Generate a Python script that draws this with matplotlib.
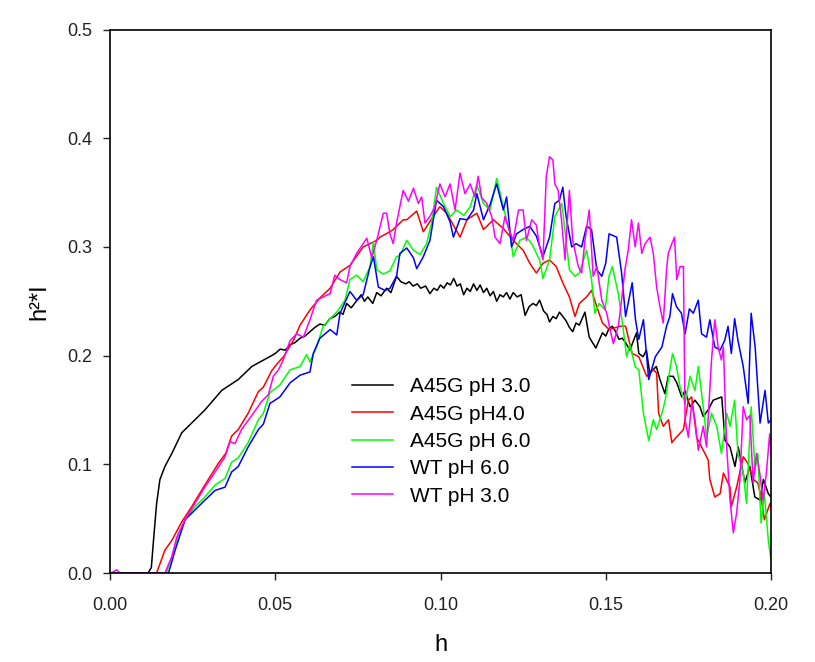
import matplotlib
matplotlib.use('Agg')
import matplotlib.pyplot as plt
from matplotlib.ticker import FormatStrFormatter

plt.rcParams['font.family'] = ['Liberation Sans', 'DejaVu Sans']

# A45G pH 3.0
h_a45g_ph3 = [0, 0.0115, 0.0125, 0.0131, 0.0141, 0.0151, 0.0166, 0.0187, 0.0217, 0.0247,
              0.0287, 0.0338, 0.0388, 0.0429, 0.0489, 0.0500, 0.0515, 0.0530, 0.0545, 0.0560,
              0.0575, 0.0590, 0.0605, 0.0620, 0.0635, 0.0650, 0.0665, 0.0680, 0.0695, 0.0705,
              0.0716, 0.0730, 0.0745, 0.0760, 0.0770, 0.0780, 0.0795, 0.0807, 0.0820, 0.0837,
              0.0850, 0.0867, 0.0880, 0.0895, 0.0905, 0.0917, 0.0930, 0.0940, 0.0955, 0.0968,
              0.0980, 0.0990, 0.1000, 0.1010, 0.1020, 0.1030, 0.1040, 0.1050, 0.1060, 0.1070,
              0.1080, 0.1090, 0.1100, 0.1110, 0.1120, 0.1130, 0.1140, 0.1150, 0.1160, 0.1170,
              0.1180, 0.1190, 0.1200, 0.1210, 0.1220, 0.1232, 0.1244, 0.1256, 0.1268, 0.1280,
              0.1290, 0.1300, 0.1312, 0.1322, 0.1330, 0.1340, 0.1350, 0.1360, 0.1370, 0.1380,
              0.1390, 0.1400, 0.1410, 0.1420, 0.1437, 0.1450, 0.1460, 0.1470, 0.1480, 0.1490,
              0.1500, 0.1510, 0.1520, 0.1530, 0.1540, 0.1550, 0.1560, 0.1573, 0.1593, 0.1600,
              0.1613, 0.1623, 0.1633, 0.1653, 0.1664, 0.1679, 0.1689, 0.1704, 0.1715, 0.1730,
              0.1740, 0.1755, 0.1770, 0.1785, 0.1795, 0.1810, 0.1825, 0.1851, 0.1861, 0.1876,
              0.1891, 0.1901, 0.1921, 0.1936, 0.1951, 0.1967, 0.1977, 0.1992, 0.2000]
i_a45g_ph3 = [0, 0, 0.005, 0.028, 0.064, 0.086, 0.098, 0.110, 0.129, 0.138,
              0.150, 0.168, 0.178, 0.190, 0.200, 0.202, 0.206, 0.205, 0.210, 0.212,
              0.216, 0.218, 0.222, 0.226, 0.229, 0.228, 0.234, 0.236, 0.240, 0.238,
              0.248, 0.244, 0.250, 0.256, 0.250, 0.254, 0.248, 0.258, 0.255, 0.262,
              0.258, 0.273, 0.268, 0.266, 0.268, 0.264, 0.266, 0.262, 0.264, 0.257,
              0.262, 0.260, 0.265, 0.262, 0.267, 0.265, 0.271, 0.264, 0.266, 0.256,
              0.262, 0.259, 0.266, 0.260, 0.265, 0.258, 0.262, 0.255, 0.259, 0.250,
              0.256, 0.254, 0.258, 0.252, 0.258, 0.254, 0.256, 0.237, 0.245, 0.248,
              0.246, 0.251, 0.241, 0.238, 0.231, 0.236, 0.234, 0.240, 0.236, 0.232,
              0.226, 0.222, 0.230, 0.228, 0.240, 0.217, 0.212, 0.207, 0.214, 0.221,
              0.218, 0.225, 0.227, 0.222, 0.215, 0.216, 0.212, 0.205, 0.221, 0.202,
              0.199, 0.205, 0.184, 0.190, 0.178, 0.165, 0.181, 0.181, 0.175, 0.162,
              0.168, 0.153, 0.159, 0.153, 0.144, 0.150, 0.159, 0.162, 0.122, 0.116,
              0.098, 0.116, 0.083, 0.098, 0.070, 0.067, 0.086, 0.073, 0.070]

# A45G pH4.0
h_a45g_ph4 = [0, 0.0141, 0.0166, 0.0187, 0.0217, 0.0247, 0.0287, 0.0328, 0.0350, 0.0368,
              0.0388, 0.0418, 0.0449, 0.0464, 0.0489, 0.0510, 0.0525, 0.0555, 0.0575, 0.0605,
              0.0635, 0.0666, 0.0696, 0.0726, 0.0766, 0.0807, 0.0817, 0.0847, 0.0857, 0.0887,
              0.0898, 0.0928, 0.0948, 0.0978, 0.0998, 0.1019, 0.1059, 0.1080, 0.1110, 0.1130,
              0.1160, 0.1190, 0.1220, 0.1250, 0.1270, 0.1290, 0.1310, 0.1330, 0.1350, 0.1370,
              0.1390, 0.1407, 0.1420, 0.1442, 0.1457, 0.1473, 0.1490, 0.1510, 0.1543, 0.1560,
              0.1580, 0.1600, 0.1624, 0.1644, 0.1654, 0.1660, 0.1674, 0.1690, 0.1700, 0.1714,
              0.1735, 0.1750, 0.1760, 0.1775, 0.1790, 0.1810, 0.1815, 0.1830, 0.1846, 0.1856,
              0.1876, 0.1880, 0.1896, 0.1916, 0.1930, 0.1947, 0.1960, 0.1970, 0.1980, 0.1997,
              0.2000]
i_a45g_ph4 = [0, 0, 0.021, 0.030, 0.047, 0.061, 0.081, 0.101, 0.110, 0.126,
              0.132, 0.147, 0.167, 0.171, 0.186, 0.194, 0.199, 0.214, 0.228, 0.242,
              0.253, 0.262, 0.277, 0.283, 0.300, 0.306, 0.309, 0.314, 0.316, 0.325,
              0.325, 0.333, 0.314, 0.328, 0.337, 0.331, 0.309, 0.325, 0.331, 0.316,
              0.325, 0.317, 0.306, 0.297, 0.285, 0.276, 0.285, 0.288, 0.282, 0.267,
              0.254, 0.236, 0.248, 0.254, 0.260, 0.245, 0.230, 0.224, 0.227, 0.227,
              0.202, 0.199, 0.181, 0.187, 0.184, 0.147, 0.135, 0.141, 0.120, 0.125,
              0.132, 0.159, 0.162, 0.125, 0.116, 0.104, 0.086, 0.070, 0.073, 0.092,
              0.079, 0.061, 0.079, 0.107, 0.101, 0.086, 0.083, 0.070, 0.049, 0.064,
              0.060]

# A45G pH 6.0
h_a45g_ph6 = [0, 0.0171, 0.0187, 0.0207, 0.0227, 0.0257, 0.0287, 0.0318, 0.0348, 0.0368,
              0.0388, 0.0418, 0.0449, 0.0464, 0.0484, 0.0514, 0.0545, 0.0575, 0.0595, 0.0605,
              0.0625, 0.0645, 0.0666, 0.0686, 0.0711, 0.0726, 0.0746, 0.0766, 0.0787, 0.0797,
              0.0807, 0.0827, 0.0847, 0.0867, 0.0877, 0.0898, 0.0918, 0.0938, 0.0958, 0.0973,
              0.0988, 0.1009, 0.1029, 0.1049, 0.1070, 0.1090, 0.1110, 0.1130, 0.1150, 0.1170,
              0.1190, 0.1210, 0.1220, 0.1240, 0.1260, 0.1276, 0.1300, 0.1310, 0.1330, 0.1346,
              0.1367, 0.1380, 0.1390, 0.1407, 0.1420, 0.1442, 0.1457, 0.1467, 0.1480, 0.1498,
              0.1510, 0.1520, 0.1538, 0.1553, 0.1563, 0.1573, 0.1589, 0.1600, 0.1614, 0.1630,
              0.1644, 0.1654, 0.1670, 0.1680, 0.1694, 0.1702, 0.1714, 0.1725, 0.1740, 0.1755,
              0.1770, 0.1780, 0.1795, 0.1805, 0.1820, 0.1836, 0.1850, 0.1866, 0.1876, 0.1890,
              0.1900, 0.1916, 0.1926, 0.1940, 0.1952, 0.1960, 0.1970, 0.1980, 0.1992, 0.2000]
i_a45g_ph6 = [0, 0, 0.015, 0.035, 0.049, 0.061, 0.070, 0.081, 0.087, 0.102,
              0.106, 0.120, 0.141, 0.147, 0.166, 0.173, 0.187, 0.190, 0.201, 0.194,
              0.208, 0.227, 0.234, 0.240, 0.251, 0.270, 0.274, 0.268, 0.282, 0.305,
              0.279, 0.275, 0.278, 0.291, 0.292, 0.306, 0.297, 0.293, 0.303, 0.322,
              0.355, 0.340, 0.328, 0.334, 0.329, 0.337, 0.357, 0.340, 0.334, 0.363,
              0.337, 0.312, 0.291, 0.306, 0.309, 0.303, 0.288, 0.271, 0.288, 0.328,
              0.340, 0.306, 0.279, 0.273, 0.276, 0.297, 0.270, 0.239, 0.248, 0.242,
              0.273, 0.282, 0.257, 0.224, 0.199, 0.210, 0.190, 0.187, 0.147, 0.122,
              0.141, 0.132, 0.147, 0.159, 0.187, 0.202, 0.190, 0.171, 0.156, 0.181,
              0.168, 0.190, 0.153, 0.125, 0.147, 0.135, 0.110, 0.147, 0.135, 0.159,
              0.110, 0.092, 0.064, 0.153, 0.095, 0.110, 0.046, 0.073, 0.030, 0.012]

# WT pH 6.0
h_wt_ph6 = [0, 0.0177, 0.0197, 0.0227, 0.0257, 0.0287, 0.0318, 0.0348, 0.0368, 0.0388,
            0.0418, 0.0449, 0.0464, 0.0484, 0.0514, 0.0545, 0.0575, 0.0605, 0.0615, 0.0635,
            0.0666, 0.0686, 0.0696, 0.0726, 0.0746, 0.0766, 0.0787, 0.0797, 0.0812, 0.0832,
            0.0847, 0.0867, 0.0877, 0.0898, 0.0918, 0.0928, 0.0948, 0.0968, 0.0988, 0.1009,
            0.1029, 0.1039, 0.1059, 0.1080, 0.1100, 0.1110, 0.1130, 0.1150, 0.1170, 0.1190,
            0.1200, 0.1215, 0.1230, 0.1250, 0.1270, 0.1290, 0.1310, 0.1330, 0.1346, 0.1360,
            0.1370, 0.1380, 0.1397, 0.1410, 0.1427, 0.1442, 0.1457, 0.1473, 0.1488, 0.1500,
            0.1510, 0.1533, 0.1548, 0.1560, 0.1580, 0.1590, 0.1600, 0.1614, 0.1630, 0.1650,
            0.1670, 0.1684, 0.1694, 0.1702, 0.1714, 0.1729, 0.1740, 0.1753, 0.1765, 0.1780,
            0.1790, 0.1805, 0.1815, 0.1830, 0.1846, 0.1860, 0.1870, 0.1880, 0.1890, 0.1900,
            0.1916, 0.1931, 0.1940, 0.1952, 0.1967, 0.1982, 0.1992, 0.2000]
i_wt_ph6 = [0, 0, 0.021, 0.049, 0.058, 0.067, 0.076, 0.079, 0.093, 0.098,
            0.116, 0.132, 0.137, 0.156, 0.162, 0.175, 0.182, 0.185, 0.202, 0.216,
            0.224, 0.219, 0.239, 0.259, 0.251, 0.256, 0.282, 0.291, 0.263, 0.260,
            0.262, 0.273, 0.294, 0.299, 0.290, 0.280, 0.291, 0.306, 0.343, 0.337,
            0.323, 0.309, 0.326, 0.325, 0.334, 0.349, 0.325, 0.339, 0.358, 0.334,
            0.346, 0.300, 0.312, 0.316, 0.319, 0.310, 0.291, 0.309, 0.340, 0.343,
            0.355, 0.328, 0.300, 0.303, 0.300, 0.319, 0.316, 0.279, 0.273, 0.285,
            0.312, 0.309, 0.276, 0.236, 0.267, 0.233, 0.215, 0.233, 0.178, 0.199,
            0.208, 0.227, 0.236, 0.257, 0.245, 0.239, 0.220, 0.243, 0.239, 0.251,
            0.220, 0.217, 0.233, 0.208, 0.205, 0.214, 0.227, 0.202, 0.234, 0.214,
            0.190, 0.156, 0.239, 0.208, 0.138, 0.168, 0.138, 0.141]

# WT pH 3.0
h_wt_ph3 = [0, 0.0010, 0.0020, 0.0030, 0.0166, 0.0187, 0.0202, 0.0227, 0.0257, 0.0287,
            0.0318, 0.0348, 0.0363, 0.0378, 0.0398, 0.0429, 0.0459, 0.0479, 0.0494, 0.0510,
            0.0524, 0.0545, 0.0565, 0.0585, 0.0605, 0.0625, 0.0645, 0.0666, 0.0680, 0.0696,
            0.0716, 0.0726, 0.0746, 0.0766, 0.0777, 0.0792, 0.0807, 0.0827, 0.0837, 0.0847,
            0.0857, 0.0867, 0.0887, 0.0903, 0.0918, 0.0933, 0.0943, 0.0953, 0.0968, 0.0983,
            0.0998, 0.1014, 0.1029, 0.1044, 0.1059, 0.1074, 0.1090, 0.1104, 0.1114, 0.1125,
            0.1140, 0.1155, 0.1165, 0.1180, 0.1195, 0.1205, 0.1220, 0.1236, 0.1250, 0.1260,
            0.1276, 0.1290, 0.1300, 0.1310, 0.1320, 0.1330, 0.1340, 0.1346, 0.1356, 0.1366,
            0.1377, 0.1382, 0.1390, 0.1400, 0.1417, 0.1427, 0.1437, 0.1450, 0.1462, 0.1473,
            0.1488, 0.1503, 0.1513, 0.1523, 0.1538, 0.1548, 0.1558, 0.1568, 0.1578, 0.1589,
            0.1599, 0.1609, 0.1619, 0.1634, 0.1644, 0.1654, 0.1664, 0.1674, 0.1684, 0.1689,
            0.1700, 0.1708, 0.1715, 0.1725, 0.1735, 0.1740, 0.1750, 0.1760, 0.1770, 0.1780,
            0.1795, 0.1805, 0.1820, 0.1830, 0.1840, 0.1850, 0.1856, 0.1866, 0.1876, 0.1886,
            0.1896, 0.1906, 0.1916, 0.1926, 0.1936, 0.1946, 0.1956, 0.1966, 0.1976, 0.1986,
            0.1996, 0.2000]
i_wt_ph3 = [0, 0.001, 0.003, 0, 0, 0.015, 0.033, 0.049, 0.064, 0.079,
            0.093, 0.107, 0.121, 0.119, 0.132, 0.145, 0.158, 0.164, 0.181, 0.187,
            0.196, 0.214, 0.220, 0.217, 0.233, 0.251, 0.254, 0.257, 0.274, 0.270,
            0.267, 0.282, 0.294, 0.303, 0.308, 0.290, 0.306, 0.331, 0.331, 0.312,
            0.303, 0.322, 0.352, 0.342, 0.354, 0.340, 0.346, 0.322, 0.328, 0.337,
            0.358, 0.346, 0.358, 0.334, 0.368, 0.349, 0.358, 0.346, 0.365, 0.345,
            0.340, 0.328, 0.309, 0.303, 0.328, 0.318, 0.306, 0.334, 0.334, 0.306,
            0.325, 0.320, 0.300, 0.288, 0.365, 0.383, 0.380, 0.358, 0.352, 0.325,
            0.288, 0.316, 0.352, 0.306, 0.282, 0.276, 0.306, 0.334, 0.273, 0.282,
            0.251, 0.239, 0.224, 0.211, 0.227, 0.251, 0.279, 0.297, 0.325, 0.300,
            0.322, 0.294, 0.303, 0.309, 0.294, 0.263, 0.245, 0.230, 0.279, 0.294,
            0.303, 0.309, 0.270, 0.282, 0.282, 0.141, 0.125, 0.156, 0.141, 0.113,
            0.135, 0.116, 0.196, 0.233, 0.208, 0.196, 0.208, 0.116, 0.067, 0.037,
            0.055, 0.086, 0.153, 0.141, 0.145, 0.083, 0.110, 0.092, 0.067, 0.092,
            0.128, 0.110]

series = [
    (h_a45g_ph3, i_a45g_ph3, '#000000', 'A45G pH 3.0'),
    (h_a45g_ph4, i_a45g_ph4, '#ff0000', 'A45G pH4.0'),
    (h_a45g_ph6, i_a45g_ph6, '#00ff00', 'A45G pH 6.0'),
    (h_wt_ph6, i_wt_ph6, '#0000ff', 'WT pH 6.0'),
    (h_wt_ph3, i_wt_ph3, '#ff00ff', 'WT pH 3.0'),
]

fig = plt.figure(figsize=(8.15, 6.62), dpi=100)
ax = fig.add_axes([0.135, 0.1344, 0.811, 0.821])

for h, val, color, label in series:
    ax.plot(h, val, color=color, linewidth=1.1, label=label)

ax.set_xlim(0, 0.2)
ax.set_ylim(0, 0.5)
ax.set_xticks([0, 0.05, 0.10, 0.15, 0.20])
ax.set_yticks([0, 0.1, 0.2, 0.3, 0.4, 0.5])
ax.xaxis.set_major_formatter(FormatStrFormatter('%.2f'))
ax.yaxis.set_major_formatter(FormatStrFormatter('%.1f'))
ax.tick_params(direction='out', length=5, width=1, labelsize=13, colors='#222222',
               top=False, right=False)
ax.tick_params(axis='x', pad=12)
ax.tick_params(axis='y', pad=7.5)
for sp in ax.spines.values():
    sp.set_linewidth(1.2)

ax.set_xlabel('h', fontsize=17, labelpad=15)
ax.set_ylabel('h²*I', fontsize=17, labelpad=12)

ax.legend(loc='upper left', bbox_to_anchor=(0.366, 0.36), frameon=False,
          fontsize=15, handlelength=1.95, handletextpad=0.85, labelspacing=0.4,
          borderpad=0, borderaxespad=0)

fig.savefig('out.png', dpi=100)
